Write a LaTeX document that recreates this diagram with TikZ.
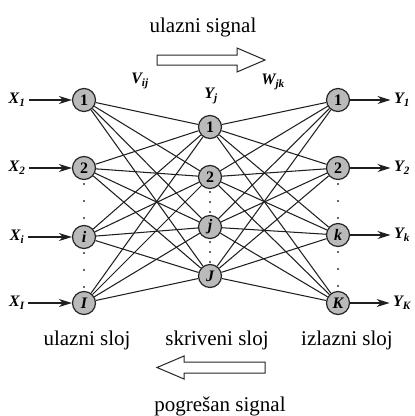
\documentclass[tikz,border=0pt]{standalone}
\usepackage{fontspec}
\setmainfont{Liberation Serif}
\usetikzlibrary{arrows.meta}
\begin{document}
\begin{tikzpicture}[x=1pt,y=-1pt,
  neuron/.style={circle,draw=black!85,fill=black!27,line width=1.2pt,minimum size=23pt,inner sep=0pt,font=\fontsize{16}{16}\selectfont\bfseries},
  ineuron/.style={neuron,font=\fontsize{16}{16}\selectfont\bfseries\itshape},
  ital/.style={font=\fontsize{16}{16}\selectfont\bfseries\itshape},
  link/.style={draw=black!88,line width=1.05pt},
  io/.style={draw=black!88,line width=1.2pt,-{Stealth[length=13pt,width=8pt,inset=4pt]}},
  lbl/.style={font=\fontsize{21}{24}\selectfont,anchor=base},
  hollow/.style={draw=black!85,line width=1pt,fill=white},
  dot/.style={circle,fill=black!80,inner sep=0pt,minimum size=2.2pt}
]
\useasboundingbox (0,0) rectangle (415,416);
% input layer
\node[neuron] (i1) at (84,100) {1};
\node[neuron] (i2) at (84,168) {2};
\node[ineuron] (i3) at (84,237) {i};
\node[ineuron] (i4) at (84,303) {I};
% hidden layer
\node[neuron] (h1) at (210,127) {1};
\node[neuron] (h2) at (210,177) {2};
\node[ineuron] (h3) at (210,227) {j};
\node[ineuron] (h4) at (210,276) {J};
% output layer
\node[neuron] (o1) at (338,100) {1};
\node[neuron] (o2) at (338,168) {2};
\node[ineuron] (o3) at (338,235) {k};
\node[ineuron] (o4) at (338,303) {K};
% connections
\foreach \a in {i1,i2,i3,i4}{\foreach \b in {h1,h2,h3,h4}{\draw[link] (\a) -- (\b);}}
\foreach \a in {h1,h2,h3,h4}{\foreach \b in {o1,o2,o3,o4}{\draw[link] (\a) -- (\b);}}
% input labels and arrows
\node[ital] (x1) at (17,100) {X\textsubscript{1}};
\node[ital] (x2) at (17,168) {X\textsubscript{2}};
\node[ital] (x3) at (17,237) {X\textsubscript{i}};
\node[ital] (x4) at (17,303) {X\textsubscript{I}};
\draw[io] (x1) -- (i1);
\draw[io] (x2) -- (i2);
\draw[io] (x3) -- (i3);
\draw[io] (x4) -- (i4);
% output labels and arrows
\node[ital] (y1) at (402,100) {Y\textsubscript{1}};
\node[ital] (y2) at (402,168) {Y\textsubscript{2}};
\node[ital] (y3) at (402,235) {Y\textsubscript{k}};
\node[ital] (y4) at (402,303) {Y\textsubscript{K}};
\draw[io] (o1) -- (y1);
\draw[io] (o2) -- (y2);
\draw[io] (o3) -- (y3);
\draw[io] (o4) -- (y4);
% dots
\foreach \y in {184,201,218,253,270,287}{\node[dot] at (84,\y) {};}
\foreach \y in {192,202,212,242,252,262}{\node[dot] at (210,\y) {};}
\foreach \y in {184,201,218,252,269,286}{\node[dot] at (338,\y) {};}
% weight labels
\node[ital] (v) at (140,81) {V\textsubscript{ij}};
\node[ital] (w) at (273,82) {W\textsubscript{jk}};
\node[ital] (yj) at (211,96) {Y\textsubscript{j}};
% texts
\node[lbl] (t1) at (203,32) {ulazni signal};
\node[lbl] (t2) at (87,345) {ulazni sloj};
\node[lbl] (t3) at (217,345) {skriveni sloj};
\node[lbl] (t4) at (347,345) {izlazni sloj};
\node[lbl] (t5) at (220,411) {pogrešan signal};
% hollow arrows
\draw[hollow] (157,55) -- (237,55) -- (237,48) -- (265,60) -- (237,72) -- (237,65) -- (157,65) -- cycle;
\draw[hollow] (265,362) -- (184,362) -- (184,356) -- (157,367.5) -- (184,379) -- (184,373) -- (265,373) -- cycle;
\end{tikzpicture}
\end{document}
